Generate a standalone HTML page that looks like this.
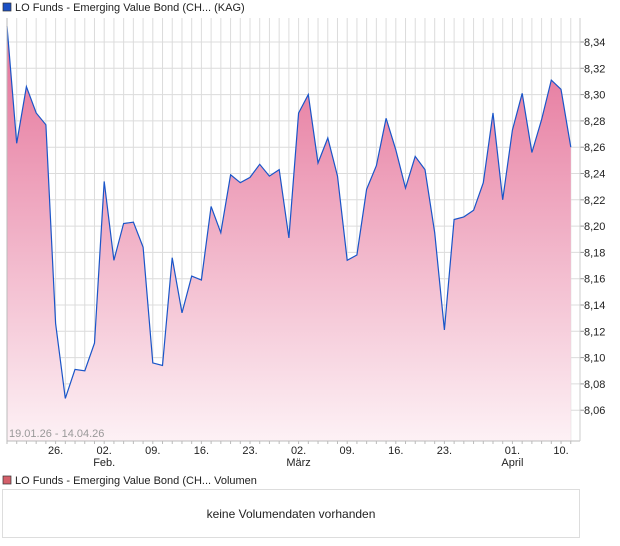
<!DOCTYPE html>
<html><head><meta charset="utf-8"><style>
body{margin:0;background:#fff;font-family:"Liberation Sans",Arial,sans-serif;}
svg{display:block}
</style></head><body>
<svg width="620" height="546" viewBox="0 0 620 546">
<defs>
<linearGradient id="fillGrad" x1="0" y1="18" x2="0" y2="441" gradientUnits="userSpaceOnUse">
<stop offset="0" stop-color="#e46e96"/>
<stop offset="1" stop-color="#fdf1f5"/>
</linearGradient>
</defs>
<g id="legend1">
<rect x="3" y="3" width="8" height="8" fill="#1a4fc4" stroke="#333" stroke-width="0.7"/>
<text x="15" y="11" font-size="11" fill="#222">LO Funds - Emerging Value Bond (CH... (KAG)</text>
</g>
<g id="grid"></g>
<path id="area" fill="url(#fillGrad)"/>
<path id="line" fill="none" stroke="#1a55c8" stroke-width="1.2"/>
<g id="yaxis"></g>
<g id="xaxis"></g>
<line x1="7" y1="18" x2="7" y2="441" stroke="#bbb"/>
<line x1="7" y1="441" x2="580" y2="441" stroke="#bbb"/>
<line x1="580" y1="18" x2="580" y2="441" stroke="#ccc"/>
<text x="9" y="437" font-size="11" fill="#999">19.01.26 - 14.04.26</text>
<g>
<rect x="3" y="476" width="8" height="8" fill="#d45f6a" stroke="#333" stroke-width="0.7"/>
<text x="15" y="484" font-size="11" fill="#222">LO Funds - Emerging Value Bond (CH... Volumen</text>
</g>
<rect x="2.5" y="489.5" width="577" height="48" fill="#fff" stroke="#ddd"/>
<text x="291" y="518" font-size="12" fill="#222" text-anchor="middle">keine Volumendaten vorhanden</text>
</svg>
<script>
const values=[8.352,8.263,8.306,8.286,8.277,8.126,8.069,8.091,8.090,8.111,
8.234,8.174,8.202,8.203,8.184,8.096,8.094,8.176,8.134,8.162,
8.159,8.215,8.195,8.239,8.233,8.237,8.247,8.238,8.243,8.191,
8.286,8.300,8.248,8.267,8.238,8.174,8.178,8.228,8.246,8.282,
8.258,8.229,8.253,8.243,8.195,8.121,8.205,8.207,8.212,8.233,
8.286,8.220,8.273,8.301,8.256,8.281,8.311,8.304,8.260];
const yTicks=[8.06,8.08,8.10,8.12,8.14,8.16,8.18,8.20,8.22,8.24,8.26,8.28,8.30,8.32,8.34];
const xTickIdx=[5,10,15,20,25,30,35,40,45,52,57];
const xTickLabels=["26.","02.","09.","16.","23.","02.","09.","16.","23.","01.","10."];
const xMonthLabels=["","Feb.","","","","März","","","","April",""];
const NS="http://www.w3.org/2000/svg";
function xs(i){return 7+i*9.72;}
function ys(v){return 42+(8.34-v)*1315;}
function mk(tag,attrs,parent){const e=document.createElementNS(NS,tag);for(const k in attrs)e.setAttribute(k,attrs[k]);parent.appendChild(e);return e;}
const grid=document.getElementById('grid');
for(let i=1;i<60;i++){const x=xs(i);if(x>=580)break;
 const l=mk('line',{x1:x,y1:18,x2:x,y2:441,stroke:'#dcdcdc'},grid);
 
 }
const ya=document.getElementById('yaxis');
yTicks.forEach(v=>{const y=ys(v);
 const l=mk('line',{x1:7,y1:y,x2:580,y2:y,stroke:'#dcdcdc'},grid);
 
 
 const t=mk('line',{x1:580,y1:y,x2:584,y2:y,stroke:'#999'},ya);
 
 
 const tx=mk('text',{x:584,y:y+4,'font-size':11,fill:'#222'},ya);
 tx.textContent=v.toFixed(2).replace('.',',');
 
 });
let d='';values.forEach((v,i)=>{d+=(i?'L':'M')+xs(i).toFixed(1)+','+ys(v).toFixed(1);});
document.getElementById('line').setAttribute('d',d);
document.getElementById('area').setAttribute('d',d+'L'+xs(values.length-1).toFixed(1)+',441L7,441Z');
const xa=document.getElementById('xaxis');
for(let i=0;i<60;i++){const x=xs(i);if(x>580)break;
 const t=mk('line',{x1:x,y1:441,x2:x,y2:444,stroke:'#bbb'},xa);
 
 }
xTickIdx.forEach((idx,k)=>{const x=xs(idx);
 const t=mk('text',{x:x,y:454,'font-size':11,fill:'#222','text-anchor':'middle'},xa);
 t.textContent=xTickLabels[k];
 
 
 if(xMonthLabels[k]){const m=mk('text',{x:x,y:466,'font-size':11,fill:'#222','text-anchor':'middle'},xa);
 m.textContent=xMonthLabels[k];
 
 }});
</script>
</body></html>
